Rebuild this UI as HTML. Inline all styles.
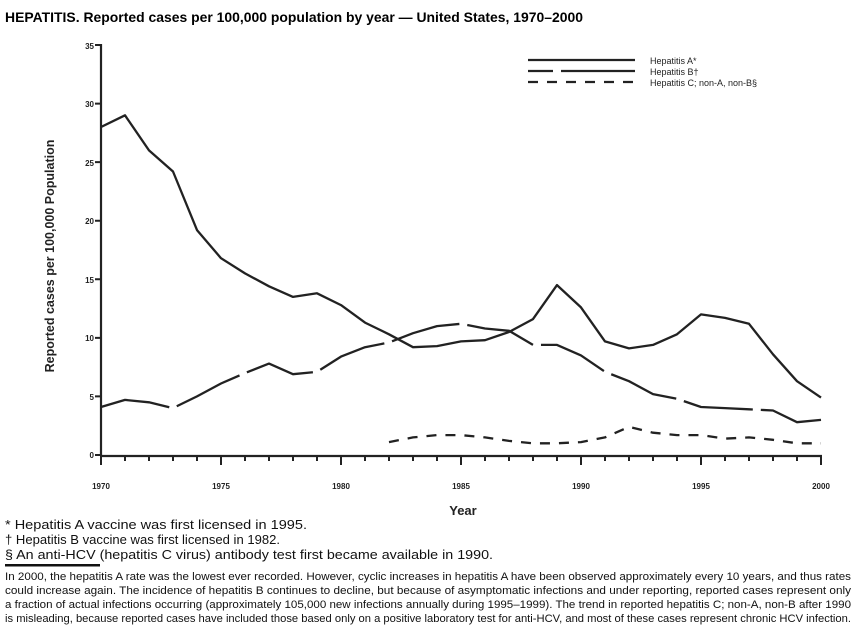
<!DOCTYPE html>
<html><head><meta charset="utf-8"><style>
body{margin:0;background:#fff;}
svg{display:block;font-family:"Liberation Sans",sans-serif;}
</style></head><body>
<svg width="857" height="629" viewBox="0 0 857 629" xmlns="http://www.w3.org/2000/svg">
<text x="5" y="22" font-size="14" font-weight="bold" textLength="578" lengthAdjust="spacingAndGlyphs">HEPATITIS. Reported cases per 100,000 population by year — United States, 1970–2000</text>
<g stroke="#222" stroke-width="2.2" fill="none">
<line x1="101" y1="44" x2="101" y2="456"/>
<line x1="100" y1="456" x2="822" y2="456"/>
<path stroke-width="2" d="M101 456v9M125 456v5M149 456v5M173 456v5M197 456v5M221 456v9M245 456v5M269 456v5M293 456v5M317 456v5M341 456v9M365 456v5M389 456v5M413 456v5M437 456v5M461 456v9M485 456v5M509 456v5M533 456v5M557 456v5M581 456v9M605 456v5M629 456v5M653 456v5M677 456v5M701 456v9M725 456v5M749 456v5M773 456v5M797 456v5M821 456v9M95 455h6M95 396.4h6M95 337.9h6M95 279.3h6M95 220.7h6M95 162.1h6M95 103.6h6M95 45h6"/>
</g>
<g font-size="8" font-weight="bold" fill="#222" text-anchor="end">
<text x="94" y="458">0</text><text x="94" y="400">5</text><text x="94" y="341">10</text><text x="94" y="283">15</text><text x="94" y="224">20</text><text x="94" y="166">25</text><text x="94" y="107">30</text><text x="94" y="49">35</text>
</g>
<g font-size="8" font-weight="bold" fill="#222" text-anchor="middle">
<text x="101" y="489">1970</text><text x="221" y="489">1975</text><text x="341" y="489">1980</text><text x="461" y="489">1985</text><text x="581" y="489">1990</text><text x="701" y="489">1995</text><text x="821" y="489">2000</text>
</g>
<text x="463" y="515" font-size="13" font-weight="bold" fill="#222" text-anchor="middle">Year</text>
<text transform="translate(54,256) rotate(-90)" font-size="12.5" font-weight="bold" fill="#222" text-anchor="middle">Reported cases per 100,000 Population</text>
<g fill="none" stroke="#222" stroke-width="2.3" stroke-linejoin="round">
<polyline id="A"/>
<polyline id="B" stroke-dasharray="70,8"/>
<polyline id="C" stroke-dasharray="10,9"/>
<line x1="528" y1="60" x2="635" y2="60"/>
<line x1="528" y1="71" x2="553" y2="71"/><line x1="561" y1="71" x2="635" y2="71"/>
<line x1="528" y1="82" x2="635" y2="82" stroke-dasharray="10,9"/>
</g>
<g font-size="9" fill="#222">
<text x="650" y="64">Hepatitis A*</text>
<text x="650" y="75">Hepatitis B†</text>
<text x="650" y="86">Hepatitis C; non-A, non-B§</text>
</g>
<g font-size="12.5" fill="#111">
<text x="5" y="529" textLength="302" lengthAdjust="spacingAndGlyphs">* Hepatitis A vaccine was first licensed in 1995.</text>
<text x="5" y="544" textLength="275" lengthAdjust="spacingAndGlyphs">† Hepatitis B vaccine was first licensed in 1982.</text>
<text x="5" y="559" textLength="488" lengthAdjust="spacingAndGlyphs">§ An anti-HCV (hepatitis C virus) antibody test first became available in 1990.</text>
</g>
<rect x="5" y="564" width="95" height="2.5" fill="#111"/>
<g font-size="11" fill="#111">
<text x="5" y="580" textLength="846" lengthAdjust="spacingAndGlyphs">In 2000, the hepatitis A rate was the lowest ever recorded. However, cyclic increases in hepatitis A have been observed approximately every 10 years, and thus rates</text>
<text x="5" y="594" textLength="846" lengthAdjust="spacingAndGlyphs">could increase again. The incidence of hepatitis B continues to decline, but because of asymptomatic infections and under reporting, reported cases represent only</text>
<text x="5" y="608" textLength="846" lengthAdjust="spacingAndGlyphs">a fraction of actual infections occurring (approximately 105,000 new infections annually during 1995–1999). The trend in reported hepatitis C; non-A, non-B after 1990</text>
<text x="5" y="622" textLength="846" lengthAdjust="spacingAndGlyphs">is misleading, because reported cases have included those based only on a positive laboratory test for anti-HCV, and most of these cases represent chronic HCV infection.</text>
</g>
<script>
function pts(start,arr){return arr.map((v,i)=>(101+24*(start-1970+i))+","+(455-11.714*v).toFixed(1)).join(" ");}
document.getElementById("A").setAttribute("points",pts(1970,[28.0,29,26,24.2,19.2,16.8,15.5,14.4,13.5,13.8,12.8,11.3,10.3,9.2,9.3,9.7,9.8,10.5,11.6,14.5,12.6,9.7,9.1,9.4,10.3,12.0,11.7,11.2,8.6,6.3,4.9]));
document.getElementById("B").setAttribute("points",pts(1970,[4.1,4.7,4.5,4.0,5.0,6.1,7.0,7.8,6.9,7.1,8.4,9.2,9.6,10.4,11.0,11.2,10.8,10.6,9.4,9.4,8.5,7.1,6.3,5.2,4.8,4.1,4.0,3.9,3.8,2.8,3.0]));
document.getElementById("C").setAttribute("points",pts(1982,[1.1,1.5,1.7,1.7,1.5,1.2,1.0,1.0,1.1,1.5,2.4,1.9,1.7,1.7,1.4,1.5,1.3,1.0,1.0]));
</script>
</svg>
</body></html>
